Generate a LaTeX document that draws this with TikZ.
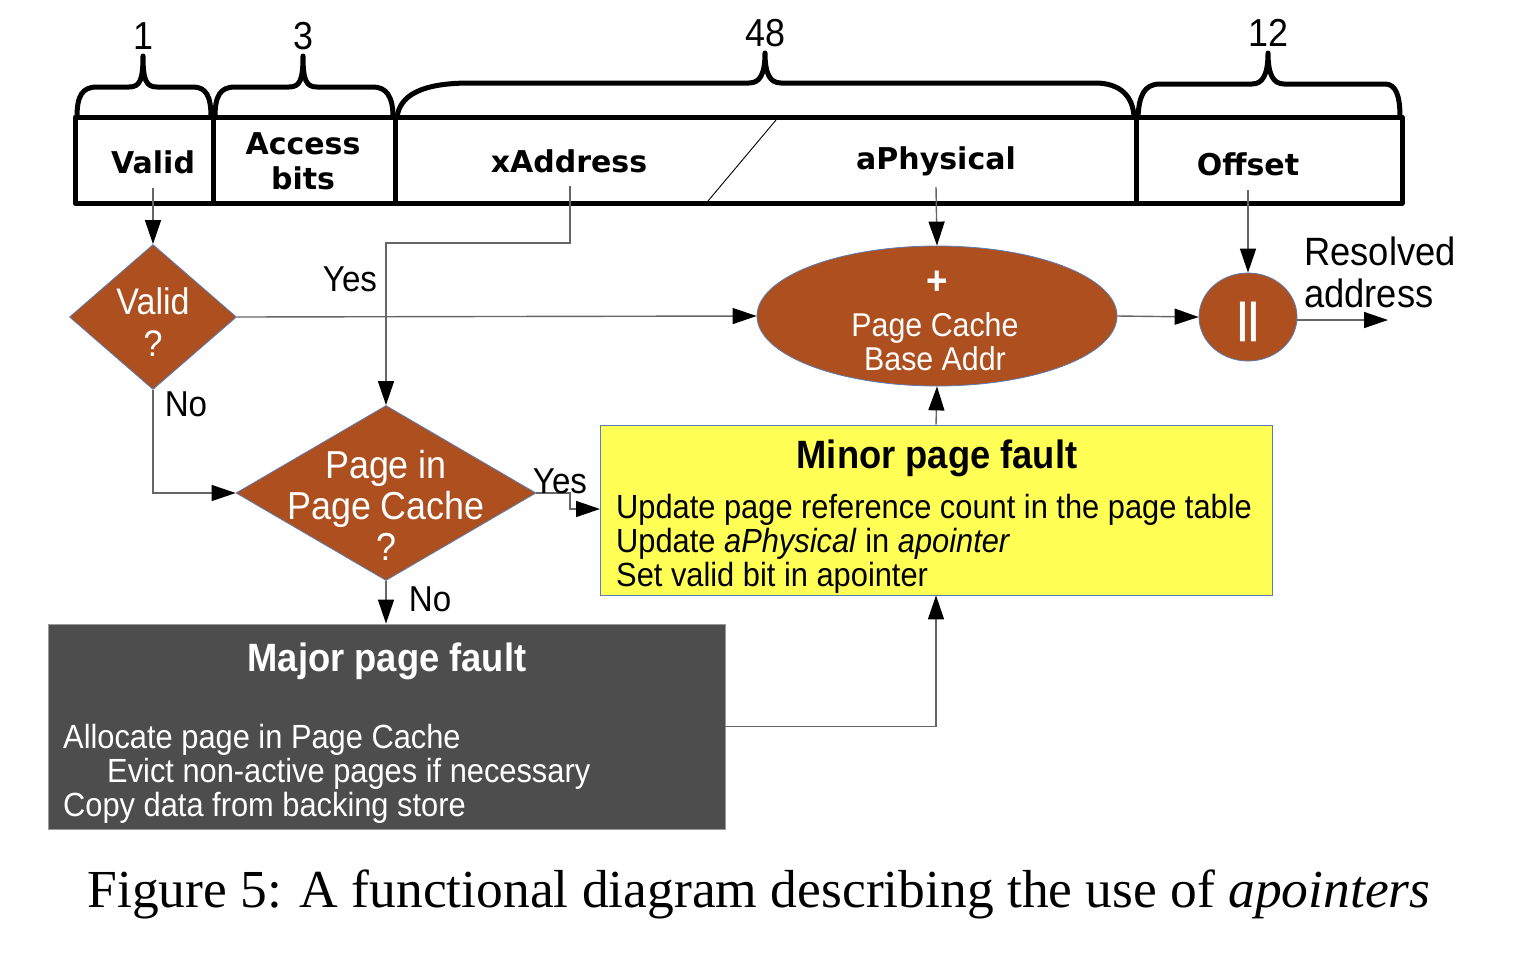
\documentclass[tikz,border=0pt]{standalone}
\usepackage{fontspec}
\usetikzlibrary{arrows.meta,shapes.geometric,calc}
\newfontfamily\dsans{Liberation Sans}[FakeStretch=0.92]
\newfontfamily\regfont{DejaVu Sans}
\setmainfont{Liberation Serif}
\definecolor{rust}{HTML}{AD4F1F}
\definecolor{edgeblue}{HTML}{5B7DB5}
\definecolor{minoryel}{HTML}{FFFF55}
\definecolor{majorgray}{HTML}{4D4D4D}
\definecolor{linegray}{HTML}{666666}
\begin{document}
\begin{tikzpicture}[x=1pt,y=-1pt,
  reg/.style={line width=5pt, line join=round, line cap=round},
  brace/.style={line width=5pt, line join=round, line cap=round},
  flab/.style={font=\regfont\bfseries\fontsize{30}{35}\selectfont, inner sep=0, align=center},
  num/.style={font=\dsans\fontsize{39}{40}\selectfont, inner sep=0},
  dia/.style={diamond, fill=rust, draw=edgeblue, line width=0.8pt, inner sep=0},
  wtxt/.style={text=white, align=center, inner sep=0},
  lab/.style={font=\dsans\fontsize{36}{40}\selectfont, inner sep=0},
  conn/.style={draw=linegray, line width=1.4pt, -{Triangle[length=24pt,width=16pt,color=black]}},
  plain/.style={draw=linegray, line width=1.4pt}
]
\useasboundingbox (0,0) rectangle (1538,956);

% ---- braces ----
\draw[brace] (77,117) .. controls (77,96) and (82,87) .. (97,87) -- (129,87)
  .. controls (140,87) and (143,80) .. (143,56) .. controls (143,80) and (146,87) .. (157,87)
  -- (193,87) .. controls (206,87) and (211,96) .. (211,117);
\draw[brace] (215,117) .. controls (215,96) and (220,87) .. (235,87) -- (289,87)
  .. controls (300,87) and (303,80) .. (303,56) .. controls (303,80) and (306,87) .. (317,87)
  -- (373,87) .. controls (386,87) and (393,96) .. (393,117);
\draw[brace] (397,117) .. controls (400,96) and (420,83) .. (470,83) -- (749,83)
  .. controls (760,83) and (765,74) .. (765,53) .. controls (765,74) and (770,83) .. (781,83)
  -- (1095,83) .. controls (1120,83) and (1133,96) .. (1134,117);
\draw[brace] (1138,117) .. controls (1139,96) and (1144,84) .. (1160,84) -- (1252,84)
  .. controls (1263,84) and (1268,74) .. (1268,53) .. controls (1268,74) and (1273,84) .. (1284,84)
  -- (1385,84) .. controls (1396,84) and (1400,96) .. (1400,117);

\node[num] (n1) at (143,36) {1};
\node[num] (n3) at (303,36) {3};
\node[num] (n48) at (765,33) {48};
\node[num] (n12) at (1268,33) {12};

% ---- register ----
\draw[reg] (75,117) rectangle (1402,203);
\draw[reg] (213,117) -- (213,203);
\draw[reg] (395,117) -- (395,203);
\draw[reg] (1136,117) -- (1136,203);
\draw[line width=0.9pt] (776,120) -- (708,201);

\node[flab] (fvalid) at (153,162) {Valid};
\node[flab] (faccess) at (303,161) {Access\\bits};
\node[flab] (fx) at (569,161) {xAddress};
\node[flab] (fphys) at (936,161) {aPhysical};
\node[flab] (foff) at (1248,164) {Offset};

\coordinate (cValid) at (153,188);
\coordinate (cX) at (570,186);
\coordinate (cAP) at (936,187);
\coordinate (cOff) at (1248,190);

% ---- decision nodes ----
\node[dia, minimum width=167pt, minimum height=145pt] (vd) at (153,317) {};
\node[wtxt, font=\dsans\fontsize{37}{42}\selectfont] (vdt) at (153,322) {Valid\\?};

\node[dia, minimum width=300pt, minimum height=175pt] (pc) at (386,493) {};
\node[wtxt, font=\dsans\fontsize{39}{41}\selectfont] (pct) at (386,505) {Page in\\Page Cache\\?};

\node[ellipse, fill=rust, draw=edgeblue, line width=0.8pt, inner sep=0,
      minimum width=360pt, minimum height=140pt] (ell) at (937,316) {};
\node[wtxt, font=\dsans\bfseries\fontsize{40}{42}\selectfont] (plus) at (937,283) {+};
\node[wtxt, font=\dsans\fontsize{33}{34}\selectfont] (ellt) at (935,342) {Page Cache\\Base Addr};

\node[ellipse, fill=rust, draw=edgeblue, line width=0.8pt, inner sep=0,
      minimum width=98pt, minimum height=88pt] (circ) at (1248,317) {};
\node[wtxt, font=\dsans\bfseries\fontsize{42}{44}\selectfont] (bars) at (1248,322) {||};

\node[lab, anchor=west, align=left, font=\dsans\fontsize{39.5}{42}\selectfont] (res) at (1304,272) {Resolved\\address};
\coordinate (resEnd) at (1388,320);

% ---- boxes ----
\node[draw=edgeblue, line width=0.8pt, fill=minoryel, minimum width=672pt, minimum height=170pt, inner sep=0] (minor) at (936,510) {};
\node[inner sep=0, font=\dsans\bfseries\fontsize{39.5}{40}\selectfont] (minort) at (937,458) {Minor page fault};
\node[inner sep=0, anchor=west, align=left, font=\dsans\fontsize{33.5}{34}\selectfont] (minorb) at (616,544)
  {Update page reference count in the page table\\Update \textit{aPhysical} in \textit{apointer}\\Set valid bit in apointer};
\coordinate (minorIn) at (600,509);

\node[draw=black!40, line width=0.8pt, fill=majorgray, minimum width=677pt, minimum height=205pt, inner sep=0] (major) at (386.5,726.5) {};
\node[inner sep=0, text=white, font=\dsans\bfseries\fontsize{39.5}{40}\selectfont] (majort) at (387,661) {Major page fault};
\node[inner sep=0, anchor=west, align=left, text=white, font=\dsans\fontsize{33.5}{34}\selectfont] (majorb) at (63,774)
  {Allocate page in Page Cache\\\hspace*{44pt}Evict non-active pages if necessary\\Copy data from backing store};

% ---- connectors ----
\draw[conn] (cValid) -- (vd.north);
\draw[conn] (cX) -- ++(0,57) -| (pc.north);
\draw[conn] (vd.east) -- (ell.west);
\draw[conn] (vd.south) |- (pc.west);
\draw[conn] (cAP) -- (ell.north);
\draw[conn] (cOff) -- (circ.north);
\draw[conn] (ell.east) -- (circ.west);
\draw[conn] (circ.east |- resEnd) -- (resEnd);
\draw[conn] (pc.east) -| ($(minorIn)+(-30,0)$) -- (minorIn);
\draw[conn] (pc.south) -- (pc.south |- major.north);
\draw[conn] (major.east) -| (minor.south);
\draw[conn] (minor.north) -- (ell.south);

\node[lab] (yes1) at (350,279) {Yes};
\node[lab] (no1) at (186,404) {No};
\node[lab] (yes2) at (560,481) {Yes};
\node[lab] (no2) at (430,599) {No};

% ---- caption ----
\node[inner sep=0, font=\fontsize{53.5}{56}\selectfont] (cap) at (759,894)
  {Figure 5: A functional diagram describing the use of \textit{apointers}};
\end{tikzpicture}
\end{document}
